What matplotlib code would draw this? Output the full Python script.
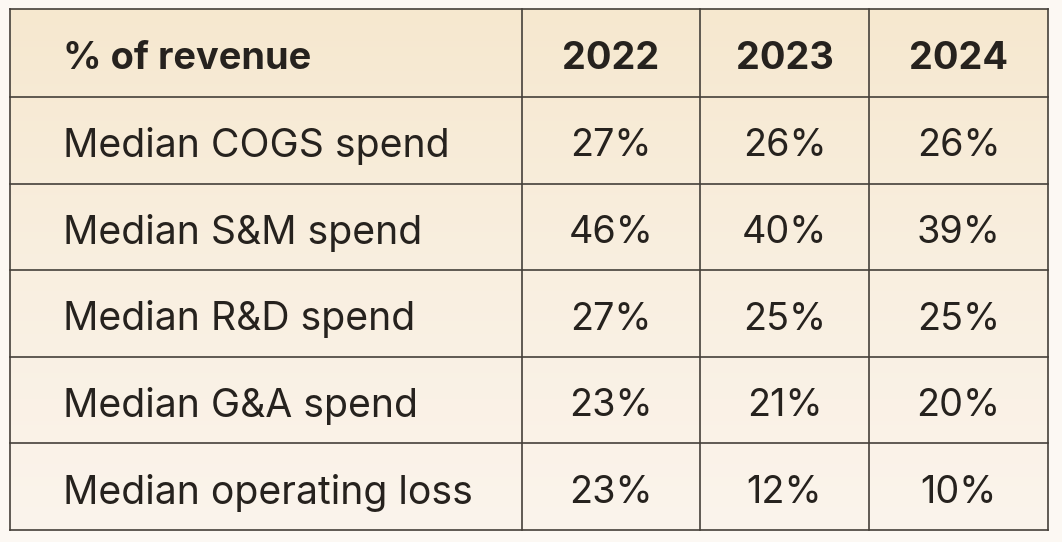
import matplotlib
matplotlib.use("Agg")
import matplotlib.pyplot as plt
import numpy as np
from matplotlib.colors import LinearSegmentedColormap

header = ["% of revenue", "2022", "2023", "2024"]
row_labels = ["Median COGS spend", "Median S&M spend", "Median R&D spend",
              "Median G&A spend", "Median operating loss"]
values_2022 = ["27%", "46%", "27%", "23%", "23%"]
values_2023 = ["26%", "40%", "25%", "21%", "12%"]
values_2024 = ["26%", "39%", "25%", "20%", "10%"]

plt.rcParams['font.family'] = ['Inter', 'DejaVu Sans']

W, H = 1062, 542
fig = plt.figure(figsize=(W / 100, H / 100), dpi=100)
fig.patch.set_facecolor("#fcf8f3")
ax = fig.add_axes([0, 0, 1, 1])
ax.set_xlim(0, W)
ax.set_ylim(H, 0)
ax.axis("off")

col_edges = [10, 522, 700, 869, 1048]
top, header_h = 9, 88
row_h = (530 - 97) / len(row_labels)
row_edges = [top, top + header_h] + [top + header_h + row_h * (i + 1) for i in range(len(row_labels))]
bottom = row_edges[-1]

# gradient fill
cmap = LinearSegmentedColormap.from_list("g", ["#f6e8cf", "#f9efe0", "#fbf4ec"])
grad = np.linspace(0, 1, 256).reshape(-1, 1)
ax.imshow(grad, cmap=cmap, extent=[col_edges[0], col_edges[-1], bottom, top],
          aspect="auto", zorder=0, interpolation="bicubic")

line_color = "#45403a"
for y in row_edges:
    ax.plot([col_edges[0], col_edges[-1]], [y, y], color=line_color, lw=1.2, zorder=2,
            solid_capstyle="projecting")
for x in col_edges:
    ax.plot([x, x], [top, bottom], color=line_color, lw=1.2, zorder=2,
            solid_capstyle="projecting")

text_color = "#26221e"
fs_head = 27.3
fs_label = 28.2
fs_val = 27.2
dy = 2
# header
hy = (row_edges[0] + row_edges[1]) / 2 + dy
ax.text(63, hy, header[0], ha="left", va="center_baseline", fontsize=fs_head,
        fontweight="bold", color=text_color)
for j in range(1, 4):
    cx = (col_edges[j] + col_edges[j + 1]) / 2
    ax.text(cx, hy, header[j], ha="center", va="center_baseline", fontsize=fs_head,
            fontweight="bold", color=text_color)

cols = [values_2022, values_2023, values_2024]
for i, lab in enumerate(row_labels):
    cy = (row_edges[i + 1] + row_edges[i + 2]) / 2 + dy
    ax.text(63, cy, lab, ha="left", va="center_baseline", fontsize=fs_label, color=text_color)
    for j, vals in enumerate(cols):
        cx = (col_edges[j + 1] + col_edges[j + 2]) / 2
        ax.text(cx, cy, vals[i], ha="center", va="center_baseline", fontsize=fs_val,
                color=text_color)

fig.savefig("out.png", dpi=100, facecolor=fig.get_facecolor())
